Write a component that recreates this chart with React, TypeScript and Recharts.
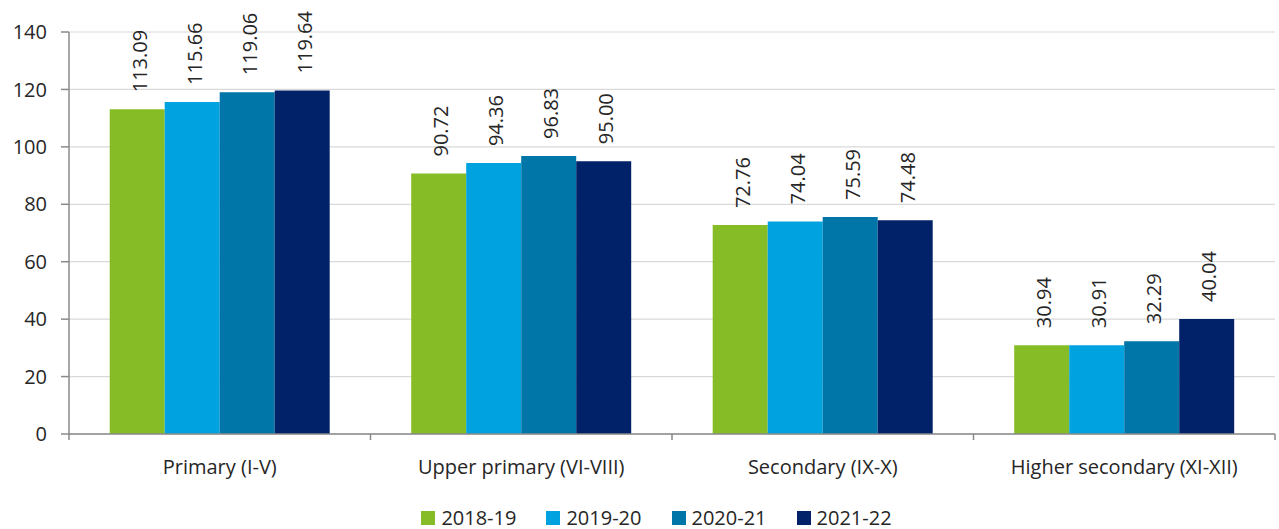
import React from 'react';
import {
  BarChart,
  Bar,
  XAxis,
  YAxis,
  CartesianGrid,
  Legend,
  LabelList
} from 'recharts';

const categories = [
  'Primary (I-V)',
  'Upper primary (VI-VIII)',
  'Secondary (IX-X)',
  'Higher secondary (XI-XII)'
];
const y2018 = [113.09, 90.72, 72.76, 30.94];
const y2019 = [115.66, 94.36, 74.04, 30.91];
const y2020 = [119.06, 96.83, 75.59, 32.29];
const y2021 = [119.64, 95.0, 74.48, 40.04];
const yTicks = [0, 20, 40, 60, 80, 100, 120, 140];

const seriesList = [
  { key: 'y2018', name: '2018-19', color: '#86BC25' },
  { key: 'y2019', name: '2019-20', color: '#00A3E0' },
  { key: 'y2020', name: '2020-21', color: '#0076A8' },
  { key: 'y2021', name: '2021-22', color: '#012169' }
];

const data = categories.map((name, i) => ({
  name,
  y2018: y2018[i],
  y2019: y2019[i],
  y2020: y2020[i],
  y2021: y2021[i]
}));

const FONT = '"Open Sans", sans-serif';
const AXIS = '#8a8a8a';
const TEXT = '#262626';

// category tick: label in the middle, tick marks at the band edges
function CategoryTick(props: any) {
  const { x, y, payload, index, visibleTicksCount } = props;
  const half = payload.offset || 0;
  const isLast = index === visibleTicksCount - 1;
  return (
    <g>
      <line x1={x - half} x2={x - half} y1={y} y2={y + 6} stroke={AXIS} strokeWidth={1.5} />
      {isLast && (
        <line x1={x + half} x2={x + half} y1={y} y2={y + 6} stroke={AXIS} strokeWidth={1.5} />
      )}
      <text x={x} y={y + 40} textAnchor="middle" fill={TEXT} fontSize={20} fontFamily={FONT}>
        {payload.value}
      </text>
    </g>
  );
}

function ValueLabel(props: any) {
  const { x, y, width, value } = props;
  const cx = x + width / 2 + 2;
  const ty = y - 17;
  return (
    <text
      x={cx}
      y={ty}
      transform={`rotate(-90, ${cx}, ${ty})`}
      textAnchor="start"
      dominantBaseline="central"
      fill={TEXT}
      fontSize={20}
      fontFamily={FONT}
    >
      {Number(value).toFixed(2)}
    </text>
  );
}

function LegendBox() {
  return (
    <div
      style={{
        display: 'flex',
        justifyContent: 'center',
        alignItems: 'center',
        gap: 30,
        fontFamily: FONT,
        fontSize: 20,
        lineHeight: '24px',
        color: TEXT,
        paddingTop: 12,
        paddingLeft: 38
      }}
    >
      {seriesList.map((s) => (
        <div key={s.key} style={{ display: 'flex', alignItems: 'center' }}>
          <span
            style={{ width: 14, height: 14, background: s.color, display: 'inline-block', marginRight: 6 }}
          />
          {s.name}
        </div>
      ))}
    </div>
  );
}

export default function App() {
  return (
    <div style={{ position: 'absolute', left: 0, top: 0, background: '#fff' }}>
      <BarChart
        width={1279}
        height={529}
        data={data}
        margin={{ top: 32, right: 4, left: 0, bottom: 0 }}
        barCategoryGap="13.5%"
        barGap={0}
      >
        <CartesianGrid vertical={false} stroke="#d9d9d9" strokeWidth={1.2} />
        <XAxis
          dataKey="name"
          height={60}
          tickLine={false}
          tickSize={0}
          tickMargin={0}
          axisLine={{ stroke: AXIS, strokeWidth: 1.5 }}
          tick={<CategoryTick />}
          interval={0}
        />
        <YAxis
          domain={[0, 140]}
          ticks={yTicks}
          width={69}
          tickSize={8}
          tickMargin={14}
          axisLine={{ stroke: AXIS, strokeWidth: 1.5 }}
          tickLine={{ stroke: AXIS, strokeWidth: 1.5 }}
          tick={{ fill: TEXT, fontSize: 20, fontFamily: FONT }}
        />
        <Legend verticalAlign="bottom" height={35} content={<LegendBox />} />
        {seriesList.map((s) => (
          <Bar key={s.key} dataKey={s.key} name={s.name} fill={s.color} isAnimationActive={false}>
            <LabelList dataKey={s.key} content={<ValueLabel />} />
          </Bar>
        ))}
      </BarChart>
    </div>
  );
}
